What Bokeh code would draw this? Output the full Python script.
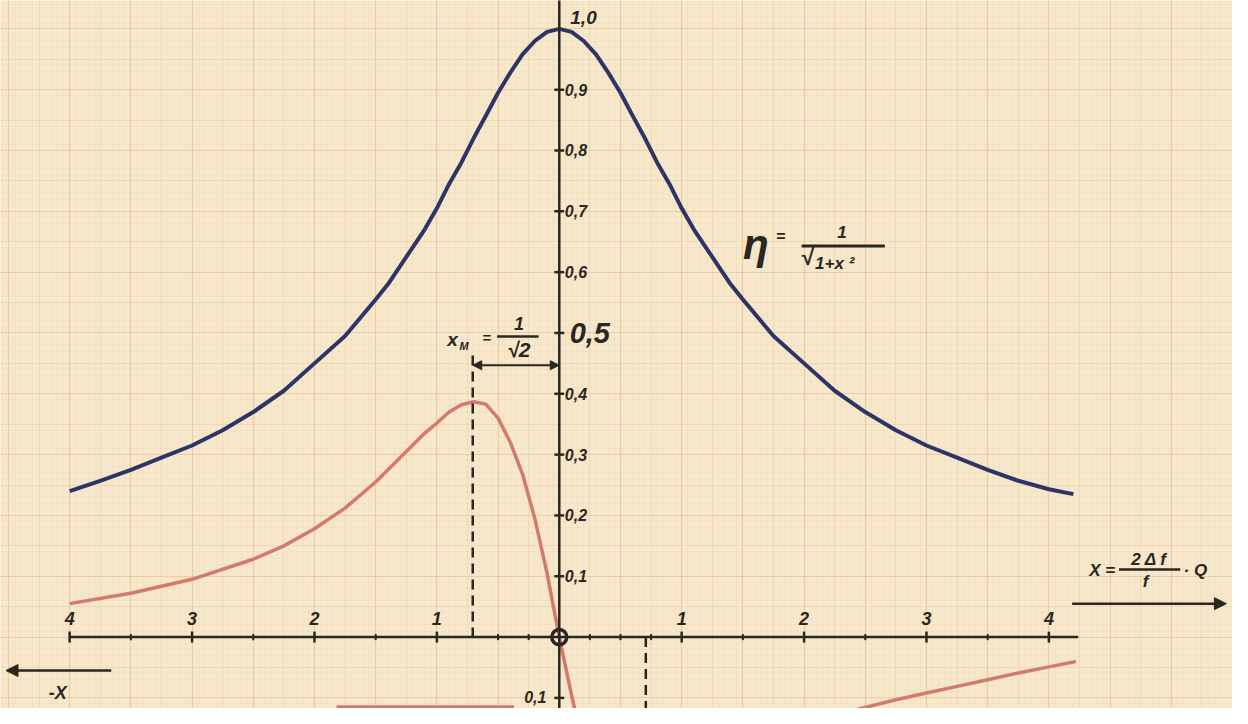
from bokeh.plotting import figure
from bokeh.models import Range1d, Grid, SingleIntervalTicker, Arrow, NormalHead, Label
from bokeh.embed import file_html
from bokeh.resources import INLINE

# ---- data ----
blue_x = [-4.0, -3.75, -3.5, -3.25, -3.0, -2.75, -2.5, -2.25, -2.0, -1.75, -1.5, -1.4, -1.3, -1.2, -1.1,
          -1.0, -0.9, -0.8, -0.7, -0.6, -0.5, -0.4, -0.3, -0.2, -0.1, 0.0,
          0.1, 0.2, 0.3, 0.4, 0.5, 0.6, 0.7, 0.8, 0.9, 1.0, 1.1, 1.2, 1.3, 1.4, 1.5,
          1.75, 2.0, 2.25, 2.5, 2.75, 3.0, 3.25, 3.5, 3.75, 4.0, 4.2]
blue_y = [0.24, 0.257, 0.275, 0.295, 0.315, 0.34, 0.37, 0.405, 0.45, 0.495, 0.555, 0.58, 0.61, 0.64, 0.67,
          0.705, 0.745, 0.78, 0.82, 0.857, 0.895, 0.928, 0.958, 0.98, 0.995, 1.0,
          0.995, 0.98, 0.958, 0.928, 0.895, 0.857, 0.82, 0.78, 0.745, 0.705, 0.67, 0.64, 0.61, 0.58, 0.555,
          0.495, 0.45, 0.405, 0.37, 0.34, 0.315, 0.295, 0.275, 0.257, 0.243, 0.235]

red_x = [-4.0, -3.5, -3.0, -2.5, -2.25, -2.0, -1.75, -1.5, -1.25, -1.1, -1.0, -0.9, -0.8, -0.7, -0.6,
         -0.5, -0.4, -0.3, -0.2, -0.1, 0.0, 0.1, 0.2, 0.35, 0.5, 0.707, 1.0, 1.5, 2.0, 2.45, 2.75,
         3.0, 3.25, 3.5, 3.75, 4.0, 4.22]
red_y = [0.055, 0.072, 0.095, 0.128, 0.15, 0.178, 0.212, 0.255, 0.305, 0.335, 0.352, 0.37, 0.382, 0.387, 0.383,
         0.36, 0.32, 0.268, 0.195, 0.105, 0.0, -0.095, -0.185, -0.29, -0.34, -0.37, -0.34, -0.25, -0.16, -0.118, -0.103,
         -0.092, -0.081, -0.07, -0.059, -0.049, -0.04]

# fragment of the red curve showing at the bottom edge
red_low_x = [-1.82, -0.37]
red_low_y = [-0.115, -0.115]

x_ticks = [-4, -3, -2, -1, 1, 2, 3, 4]
x_tick_labels = ["4", "3", "2", "1", "1", "2", "3", "4"]
x_half_ticks = [-3.5, -2.5, -1.5, -0.5, -0.25, 0.25, 0.5, 0.75, 1.5, 2.5, 3.5]
y_ticks = [0.1, 0.2, 0.3, 0.4, 0.5, 0.6, 0.7, 0.8, 0.9]
y_tick_labels = ["0,1", "0,2", "0,3", "0,4", "", "0,6", "0,7", "0,8", "0,9"]
x_m = -0.707

INK = "#2A2620"
FONT = "Liberation Sans"

p = figure(width=1232, height=708, x_range=Range1d(-4.565, 5.5), y_range=Range1d(-0.1174, 1.0466),
           x_axis_type=None, y_axis_type=None, output_backend="svg", toolbar_location=None,
           min_border=0, background_fill_color="#F7E8CC", border_fill_color="#F7E8CC",
           outline_line_color=None)

# graph paper
for dim, iv, col, alpha, w in [(0, 0.05, "#EFCFA8", 0.22, 1), (1, 0.01, "#EFCFA8", 0.22, 1),
                               (0, 0.25, "#EDC89E", 0.35, 1), (1, 0.05, "#EDC89E", 0.35, 1),
                               (0, 0.5, "#EBC093", 0.55, 1.2), (1, 0.1, "#EBC093", 0.55, 1.2)]:
    p.add_layout(Grid(dimension=dim, ticker=SingleIntervalTicker(interval=iv),
                      grid_line_color=col, grid_line_alpha=alpha, grid_line_width=w))

# curves
p.line(blue_x, blue_y, line_color="#2E3566", line_width=4, line_join="round")
p.line(red_x, red_y, line_color="#D27A6C", line_width=3.5, line_join="round")
p.line(red_low_x, red_low_y, line_color="#D27A6C", line_width=3.5)

# axes
p.segment(x0=[-4.0], y0=[0], x1=[4.24], y1=[0], line_color=INK, line_width=2.5)
p.segment(x0=[0], y0=[-0.12], x1=[0], y1=[1.05], line_color=INK, line_width=2.5)
p.segment(x0=x_ticks, y0=[-0.009] * len(x_ticks), x1=x_ticks, y1=[0.009] * len(x_ticks),
          line_color=INK, line_width=2.5)
p.segment(x0=x_half_ticks, y0=[-0.005] * len(x_half_ticks), x1=x_half_ticks,
          y1=[0.005] * len(x_half_ticks), line_color=INK, line_width=2)
yt = y_ticks + [-0.1]
p.segment(x0=[-0.04] * len(yt), y0=yt, x1=[0.04] * len(yt), y1=yt, line_color=INK, line_width=2.5)

# tick labels
p.text(x=x_ticks, y=[0.03] * len(x_ticks), text=x_tick_labels, text_align="center",
       text_baseline="middle", text_font_size="18px", text_font_style="bold italic",
       text_color=INK, text_font={"value": FONT})
p.text(x=[0.045] * len(y_ticks), y=y_ticks, text=y_tick_labels, text_align="left",
       text_baseline="middle", text_font_size="16px", text_font_style="bold italic",
       text_color=INK, text_font={"value": FONT})

def lab(x, y, t, size, align="left", style="bold italic"):
    p.add_layout(Label(x=x, y=y, text=t, text_font_size=size, text_align=align,
                       text_baseline="middle", text_font_style=style, text_color=INK,
                       text_font=FONT))

lab(0.085, 0.5, "0,5", "29px")
lab(0.09, 1.018, "1,0", "19px")
lab(-0.105, -0.098, "0,1", "16px", align="right")

# origin ring
p.scatter([0], [0], size=15, fill_color=None, line_color=INK, line_width=3.5)

# dashed lines at x_M
p.segment(x0=[x_m], y0=[0.463], x1=[x_m], y1=[0.0], line_color=INK, line_width=2.5, line_dash="10 6")
p.segment(x0=[-x_m], y0=[0.0], x1=[-x_m], y1=[-0.12], line_color=INK, line_width=2.5, line_dash="10 6")

# dimension arrow
p.add_layout(Arrow(start=NormalHead(size=9, fill_color=INK, line_color=INK),
                   end=NormalHead(size=9, fill_color=INK, line_color=INK),
                   x_start=x_m, y_start=0.447, x_end=0, y_end=0.447, line_color=INK, line_width=2))

# x_M = 1/sqrt2
lab(-0.915, 0.49, "x", "19px")
lab(-0.815, 0.478, "M", "11px")
lab(-0.63, 0.493, "=", "15px")
lab(-0.33, 0.515, "1", "18px", align="center")
p.segment(x0=[-0.508], y0=[0.494], x1=[-0.169], y1=[0.494], line_color=INK, line_width=2.5)
lab(-0.33, 0.473, "√2", "21px", align="center")

# eta formula
lab(1.5, 0.645, "η", "42px")
lab(1.77, 0.658, "=", "16px")
lab(2.31, 0.666, "1", "17px", align="center")
p.segment(x0=[1.98], y0=[0.643], x1=[2.66], y1=[0.643], line_color=INK, line_width=3)
lab(1.98, 0.625, "√", "23px", style="bold")
lab(2.09, 0.614, "1+x ²", "17px")

# X formula
lab(4.33, 0.11, "X =", "17px")
lab(4.82, 0.128, "2 Δ f", "17px", align="center")
p.segment(x0=[4.573], y0=[0.111], x1=[5.073], y1=[0.111], line_color=INK, line_width=2.5)
lab(4.79, 0.092, "f", "17px", align="center")
lab(5.1, 0.11, "· Q", "17px")

# direction arrows
p.add_layout(Arrow(end=NormalHead(size=12, fill_color=INK, line_color=INK),
                   x_start=4.19, y_start=0.055, x_end=5.45, y_end=0.055, line_color=INK, line_width=2.5))
p.add_layout(Arrow(end=NormalHead(size=12, fill_color=INK, line_color=INK),
                   x_start=-3.66, y_start=-0.055, x_end=-4.52, y_end=-0.055, line_color=INK, line_width=2.5))
lab(-4.17, -0.092, "-X", "18px")

open("out.html", "w").write(file_html(p, INLINE))
